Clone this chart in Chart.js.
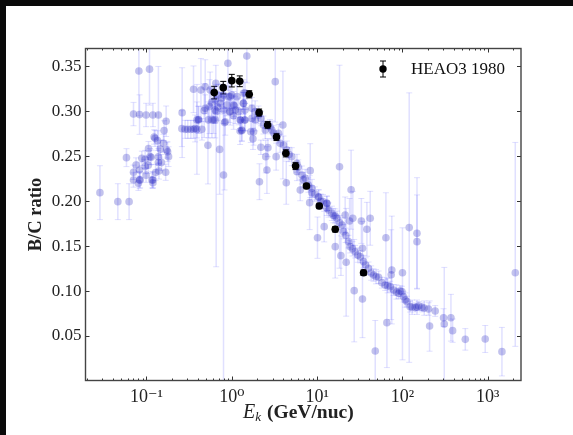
<!DOCTYPE html>
<html>
<head>
<meta charset="utf-8">
<title>B/C ratio</title>
<script src="https://cdn.jsdelivr.net/npm/chart.js@4"></script>
<style>
  html, body { margin: 0; padding: 0; background: #fff; overflow: hidden; }
  /* dark strip along the top and left of the screenshot */
  #frame { position: absolute; left: 0; top: 0; width: 567px; height: 429px;
           border-left: 6px solid #0a0a0a; border-top: 6px solid #0a0a0a; }
  canvas { display: block; }
</style>
</head>
<body>
<div id="frame"><canvas id="chart" width="567" height="429"></canvas></div>
<script>
// ---- data ----
const energies = [
  0.0285, 0.0462, 0.0626, 0.0583, 0.0705, 0.0815, 0.083, 0.1086, 0.099, 0.119, 0.138, 0.17, 0.161,
  0.123, 0.135, 0.158, 0.1057, 0.145, 0.177, 0.0883, 0.0966, 0.1135, 0.138, 0.1815, 0.138, 0.0755,
  0.0966, 0.0705, 0.083, 0.099, 0.14, 0.168, 0.0705, 0.083, 0.0805, 0.119, 0.119,
  0.262, 0.26, 0.284, 0.305, 0.331, 0.356, 0.39, 0.446, 0.39, 0.408, 0.356, 0.525, 0.435, 0.488,
  0.475, 0.533, 0.585, 0.64, 0.548, 0.558, 0.65, 0.72, 0.8, 0.822, 0.9, 1.5,
  0.64, 0.70, 0.80, 0.916, 1.0, 1.15, 1.37, 0.731, 0.875, 1.05, 1.37, 0.64, 0.8, 0.942, 1.1, 1.43,
  1.26, 1.43, 1.31,
  3.23, 3.97, 18.3, 25, 8.3, 2.11, 2.58, 4.35, 8.17, 2.5, 2.19, 2.65, 3.31, 1.77, 1.67, 1.31,
  1.26, 1.41, 1.88, 1.37, 1.07, 1.43, 1.72, 1.88,
  2.06, 2.35, 2.47, 2.95, 3.53, 3.69, 4.04, 4.42, 5.05, 5.8, 5.8, 6.63, 7.26, 6.34, 8.69, 10.4, 13, 13,
  10.1, 12.1, 16.3, 19, 21.9, 27.2, 34, 48, 65.7, 120, 148, 148, 64, 33, 41.9, 38.3, 34, 26.2, 24,
  21.3, 75, 73.8, 100, 2100,
  8.67, 10.4, 11.7, 13, 13.6, 14.9, 16.3, 17.1, 19.5, 20.4, 23.3, 24.4, 27.9, 32, 35, 40, 45.8, 52.5,
  57.4, 62.8, 71.9, 78.7, 90, 94, 98.6, 103, 113, 123, 141, 155, 169, 202, 242,
  303, 309, 370, 387, 208, 545, 933, 1465,
  0.372, 0.488, 0.407, 0.61, 0.957, 0.957, 0.838, 1.25, 1.72, 1.8, 0.58, 0.68, 0.76, 1.2, 1.05,
  0.126, 0.173, 0.11, 0.116, 0.0843, 0.15, 0.105, 0.128,
  2.2, 2.8, 3.1, 4.7, 6.0, 6.9, 7.9, 9.4, 11, 15.5, 18.4, 21.6, 26, 30, 37, 43, 49, 67, 85, 108, 130, 148, 180,
  0.656
];
const ratios = [
  0.2095, 0.1995, 0.1995, 0.2485, 0.297, 0.345, 0.2964, 0.347, 0.296, 0.296, 0.296, 0.289, 0.2786,
  0.2715, 0.2674, 0.2644, 0.2585, 0.258, 0.255, 0.2477, 0.2466, 0.2488, 0.2495, 0.2496, 0.243, 0.2403,
  0.2385, 0.2322, 0.2347, 0.229, 0.2336, 0.2322, 0.2236, 0.2236, 0.22, 0.2236, 0.2206,
  0.2986, 0.2808, 0.28, 0.28, 0.28, 0.28, 0.28, 0.28, 0.2905, 0.291, 0.3246, 0.2622, 0.3238, 0.3275,
  0.3008, 0.2905, 0.2905, 0.2905, 0.3053, 0.3238, 0.3313, 0.2577, 0.2292, 0.2875, 0.3535, 0.3617,
  0.3127, 0.3183, 0.3183, 0.3164, 0.3183, 0.3164, 0.3201, 0.309, 0.3071, 0.3071, 0.309, 0.3015, 0.3015, 0.2997, 0.3015, 0.3015,
  0.2904, 0.2904, 0.2793,
  0.3331, 0.2848, 0.2384, 0.2128, 0.234, 0.2217, 0.2347, 0.2206, 0.1984, 0.2496, 0.26, 0.2596, 0.2496, 0.2696, 0.2774, 0.2785,
  0.2904, 0.2904, 0.2904, 0.309, 0.306, 0.3208, 0.3034, 0.2997,
  0.296, 0.2848, 0.2793, 0.2793, 0.2756, 0.2644, 0.2626, 0.257, 0.2496, 0.2422, 0.2329, 0.2292, 0.2255, 0.2125, 0.2143, 0.205, 0.1976, 0.1921,
  0.1594, 0.1717, 0.1494, 0.1394, 0.132, 0.1004, 0.0911, 0.0332, 0.0648, 0.1706, 0.1642, 0.155, 0.1594, 0.178, 0.181, 0.1687, 0.1475, 0.181, 0.178,
  0.1847, 0.1234, 0.1182, 0.1204, 0.1204,
  0.2095, 0.2043, 0.1995, 0.1977, 0.1902, 0.1865, 0.1835, 0.181, 0.1735, 0.1661, 0.155, 0.1494, 0.1438, 0.1383, 0.1327, 0.1253, 0.1178, 0.1153,
  0.1093, 0.1067, 0.1049, 0.1011, 0.0974, 0.1, 0.0993, 0.0937, 0.0882, 0.0826, 0.0818, 0.0833, 0.0818, 0.08, 0.0778,
  0.0703, 0.0633, 0.0703, 0.0559, 0.061, 0.0462, 0.0466, 0.0325,
  0.281, 0.3034, 0.2904, 0.2904, 0.3164, 0.2997, 0.2885, 0.2781, 0.2922, 0.2774, 0.31, 0.305, 0.315, 0.3, 0.295,
  0.27, 0.257, 0.2496, 0.2237, 0.2237, 0.243, 0.24, 0.232,
  0.292, 0.283, 0.276, 0.252, 0.238, 0.224, 0.218, 0.208, 0.2, 0.184, 0.176, 0.162, 0.147, 0.14, 0.129, 0.12, 0.116, 0.106, 0.099, 0.09, 0.082, 0.082, 0.081,
  0.3
];
const errLow = [
  0.03, 0.02, 0.02, 0.01, 0.013, 0.05, 0.022, 0.04, 0.013, 0.013, 0.054, 0.017, 0.011,
  0.008, 0.011, 0.01, 0.008, 0.01, 0.011, 0.008, 0.01, 0.008, 0.009, 0.011, 0.008, 0.008,
  0.008, 0.008, 0.009, 0.008, 0.009, 0.009, 0.008, 0.009, 0.008, 0.009, 0.006,
  0.05, 0.02, 0.01, 0.01, 0.01, 0.01, 0.05, 0.012, 0.02, 0.015, 0.026, 0.043, 0.035, 0.03,
  0.03, 0.02, 0.02, 0.02, 0.03, 0.02, 0.02, 0.05, 0.23, 0.075, 0.03, 0.03,
  0.015, 0.012, 0.015, 0.012, 0.015, 0.012, 0.015, 0.012, 0.012, 0.015, 0.012, 0.015, 0.015, 0.012, 0.015, 0.012,
  0.012, 0.012, 0.012,
  0.045, 0.06, 0.113, 0.044, 0.03, 0.02, 0.026, 0.024, 0.03, 0.018, 0.008, 0.01, 0.015, 0.012, 0.012, 0.012,
  0.012, 0.012, 0.012, 0.012, 0.012, 0.012, 0.012, 0.012,
  0.01, 0.01, 0.01, 0.01, 0.01, 0.01, 0.01, 0.01, 0.01, 0.01, 0.01, 0.01, 0.01, 0.012, 0.01, 0.008, 0.008, 0.008,
  0.023, 0.017, 0.035, 0.022, 0.06, 0.057, 0.043, 0.034, 0.05, 0.15, 0.062, 0.052, 0.05, 0.025, 0.03, 0.03, 0.03, 0.03, 0.025,
  0.02, 0.06, 0.05, 0.097, 0.082,
  0.008, 0.008, 0.008, 0.008, 0.008, 0.008, 0.008, 0.008, 0.008, 0.008, 0.007, 0.007, 0.007, 0.007, 0.007, 0.007, 0.007, 0.007,
  0.006, 0.006, 0.006, 0.006, 0.006, 0.006, 0.006, 0.006, 0.006, 0.006, 0.005, 0.005, 0.005, 0.007, 0.006,
  0.01, 0.063, 0.026, 0.013, 0.028, 0.012, 0.015, 0.027,
  0.015, 0.015, 0.015, 0.015, 0.015, 0.015, 0.015, 0.015, 0.015, 0.015, 0.015, 0.015, 0.015, 0.015, 0.015,
  0.009, 0.009, 0.009, 0.009, 0.009, 0.009, 0.009, 0.009,
  0.008, 0.008, 0.008, 0.008, 0.008, 0.008, 0.008, 0.008, 0.008, 0.008, 0.008, 0.008, 0.008, 0.008, 0.008, 0.008, 0.008, 0.008, 0.008, 0.008, 0.008, 0.008, 0.008,
  0.173
];
const errHigh = [
  0.03, 0.02, 0.02, 0.01, 0.013, 0.06, 0.022, 0.06, 0.013, 0.013, 0.054, 0.017, 0.011,
  0.008, 0.011, 0.01, 0.008, 0.01, 0.011, 0.008, 0.01, 0.008, 0.009, 0.011, 0.008, 0.008,
  0.008, 0.008, 0.009, 0.008, 0.009, 0.009, 0.008, 0.009, 0.008, 0.009, 0.006,
  0.05, 0.02, 0.01, 0.01, 0.01, 0.01, 0.05, 0.012, 0.02, 0.015, 0.026, 0.043, 0.035, 0.03,
  0.03, 0.02, 0.02, 0.02, 0.03, 0.02, 0.02, 0.05, 0.1, 0.04, 0.03, 0.03,
  0.015, 0.012, 0.015, 0.012, 0.015, 0.012, 0.015, 0.012, 0.012, 0.015, 0.012, 0.015, 0.015, 0.012, 0.015, 0.012,
  0.012, 0.012, 0.012,
  0.045, 0.06, 0.113, 0.044, 0.03, 0.02, 0.026, 0.024, 0.03, 0.018, 0.008, 0.01, 0.015, 0.012, 0.012, 0.012,
  0.012, 0.012, 0.012, 0.012, 0.012, 0.012, 0.012, 0.012,
  0.01, 0.01, 0.01, 0.01, 0.01, 0.01, 0.01, 0.01, 0.01, 0.01, 0.01, 0.01, 0.01, 0.012, 0.01, 0.008, 0.008, 0.008,
  0.023, 0.017, 0.035, 0.022, 0.06, 0.057, 0.043, 0.034, 0.05, 0.15, 0.062, 0.052, 0.05, 0.025, 0.03, 0.03, 0.03, 0.03, 0.025,
  0.02, 0.06, 0.05, 0.05, 0.145,
  0.008, 0.008, 0.008, 0.008, 0.008, 0.008, 0.008, 0.008, 0.008, 0.008, 0.007, 0.007, 0.007, 0.007, 0.007, 0.007, 0.007, 0.007,
  0.006, 0.006, 0.006, 0.006, 0.006, 0.006, 0.006, 0.006, 0.006, 0.006, 0.005, 0.005, 0.005, 0.007, 0.006,
  0.01, 0.063, 0.026, 0.013, 0.028, 0.012, 0.015, 0.027,
  0.015, 0.015, 0.015, 0.015, 0.015, 0.015, 0.015, 0.015, 0.015, 0.015, 0.015, 0.015, 0.015, 0.015, 0.015,
  0.009, 0.009, 0.009, 0.009, 0.009, 0.009, 0.009, 0.009,
  0.008, 0.008, 0.008, 0.008, 0.008, 0.008, 0.008, 0.008, 0.008, 0.008, 0.008, 0.008, 0.008, 0.008, 0.008, 0.008, 0.008, 0.008, 0.008, 0.008, 0.008, 0.008, 0.008,
  0.03
];

const heaoE = [0.622, 0.794, 1.0, 1.24, 1.6, 2.09, 2.63, 3.34, 4.3, 5.59, 7.5, 10.6, 16.3, 35];
const heaoRatio = [0.3209, 0.3264, 0.3342, 0.3335, 0.319, 0.2986, 0.2848, 0.2715, 0.2533, 0.2392, 0.2169, 0.1947, 0.1687, 0.1204];
const heaoErr = [0.007, 0.007, 0.007, 0.006, 0.004, 0.004, 0.004, 0.004, 0.004, 0.004, 0.003, 0.003, 0.003, 0.003];

const xTicks = [0.1, 1, 10, 100, 1000];
const xTickLabels = ['10⁻¹', '10⁰', '10¹', '10²', '10³'];
const yTicks = [0.05, 0.10, 0.15, 0.20, 0.25, 0.30, 0.35];

const SERIF = "'Liberation Serif', 'DejaVu Serif', serif";
const INK = '#222';

function toPoints(xs, ys) {
  return xs.map(function (x, i) { return { x: x, y: ys[i] }; });
}

// error bars with caps, sits under the markers
const errorBars = {
  id: 'errorBars',
  beforeDatasetsDraw: function (chart) {
    const ctx = chart.ctx, xs = chart.scales.x, ys = chart.scales.y, a = chart.chartArea;
    function bar(x, y, lo, hi, color, w, cap) {
      const px = xs.getPixelForValue(x);
      const top = ys.getPixelForValue(y + hi), bot = ys.getPixelForValue(y - lo);
      ctx.strokeStyle = color;
      ctx.lineWidth = w;
      ctx.beginPath();
      ctx.moveTo(px, top); ctx.lineTo(px, bot);
      ctx.stroke();
      ctx.lineWidth = 1;
      ctx.beginPath();
      ctx.moveTo(px - cap, top); ctx.lineTo(px + cap, top);
      ctx.moveTo(px - cap, bot); ctx.lineTo(px + cap, bot);
      ctx.stroke();
    }
    ctx.save();
    ctx.beginPath();
    ctx.rect(a.left, a.top, a.right - a.left, a.bottom - a.top);
    ctx.clip();
    energies.forEach(function (e, i) {
      bar(e, ratios[i], errLow[i], errHigh[i], 'rgba(70,70,255,0.17)', 1.5, 3);
    });
    heaoE.forEach(function (e, i) {
      bar(e, heaoRatio[i], heaoErr[i], heaoErr[i], '#000', 1, 3);
    });
    ctx.restore();
  }
};

// inward ticks on all sides, frame, x title and the legend
const decorations = {
  id: 'decorations',
  afterDraw: function (chart) {
    const ctx = chart.ctx, xs = chart.scales.x, ys = chart.scales.y, a = chart.chartArea;
    ctx.save();
    ctx.strokeStyle = '#333';
    ctx.lineWidth = 1;
    ctx.beginPath();
    for (let k = -2; k <= 3; k++) {
      for (let m = 1; m <= 9; m++) {
        const v = m * Math.pow(10, k);
        if (v < xs.min || v > xs.max) continue;
        const px = Math.round(xs.getPixelForValue(v)) + 0.5;
        const len = m === 1 ? 4 : 2;
        ctx.moveTo(px, a.bottom); ctx.lineTo(px, a.bottom - len);
        ctx.moveTo(px, a.top); ctx.lineTo(px, a.top + len);
      }
    }
    yTicks.forEach(function (v) {
      const py = Math.round(ys.getPixelForValue(v)) + 0.5;
      ctx.moveTo(a.left, py); ctx.lineTo(a.left + 4, py);
      ctx.moveTo(a.right, py); ctx.lineTo(a.right - 4, py);
    });
    ctx.stroke();
    ctx.strokeStyle = '#444';
    ctx.lineWidth = 1.4;
    ctx.strokeRect(a.left, a.top, a.right - a.left, a.bottom - a.top);

    // legend
    const lx = 377, ly = 63;
    ctx.strokeStyle = '#000';
    ctx.fillStyle = '#000';
    ctx.lineWidth = 1;
    ctx.beginPath();
    ctx.moveTo(lx, ly - 8); ctx.lineTo(lx, ly + 8);
    ctx.moveTo(lx - 3, ly - 8); ctx.lineTo(lx + 3, ly - 8);
    ctx.moveTo(lx - 3, ly + 8); ctx.lineTo(lx + 3, ly + 8);
    ctx.stroke();
    ctx.beginPath();
    ctx.arc(lx, ly, 3.7, 0, Math.PI * 2);
    ctx.fill();
    ctx.fillStyle = '#111';
    ctx.font = "17px " + SERIF;
    ctx.textBaseline = 'middle';
    ctx.textAlign = 'left';
    ctx.fillText('HEAO3 1980', 405, ly + 0.5);

    // x axis title, mixed styles so drawn in pieces
    let x = 237;
    const y = 412;
    ctx.textBaseline = 'alphabetic';
    ctx.fillStyle = INK;
    ctx.font = "italic 20px " + SERIF;
    ctx.fillText('E', x, y);
    x += ctx.measureText('E').width;
    ctx.font = "italic 13px " + SERIF;
    ctx.fillText('k', x, y + 3);
    x += ctx.measureText('k').width + 6;
    ctx.font = "bold 19.5px " + SERIF;
    ctx.fillText('(GeV/nuc)', x, y);
    ctx.restore();
  }
};

new Chart(document.getElementById('chart'), {
  type: 'scatter',
  data: {
    datasets: [
      {
        label: 'HEAO3 1980',
        data: toPoints(heaoE, heaoRatio),
        backgroundColor: '#000',
        borderWidth: 0,
        pointRadius: 3.8,
        order: 0
      },
      {
        label: 'B/C',
        data: toPoints(energies, ratios),
        backgroundColor: 'rgba(30,30,190,0.27)',
        borderWidth: 0,
        pointRadius: 3.8,
        order: 1
      }
    ]
  },
  options: {
    responsive: false,
    animation: false,
    layout: { padding: { top: 42.5, right: 52, left: 0, bottom: 0 } },
    plugins: { legend: { display: false }, tooltip: { enabled: false } },
    scales: {
      x: {
        type: 'logarithmic',
        min: 0.0193,
        max: 2450,
        afterBuildTicks: function (scale) {
          scale.ticks = xTicks.map(function (v) { return { value: v, major: true }; });
        },
        afterFit: function (scale) { scale.height = 54.5; },
        grid: { display: false, drawTicks: false },
        border: { display: false },
        ticks: {
          autoSkip: false,
          maxRotation: 0,
          padding: 6,
          color: INK,
          font: { family: SERIF, size: 18 },
          callback: function (v) { return xTickLabels[xTicks.indexOf(v)]; }
        }
      },
      y: {
        min: 0.0004,
        max: 0.37,
        afterBuildTicks: function (scale) {
          scale.ticks = yTicks.map(function (v) { return { value: v }; });
        },
        afterFit: function (scale) { scale.width = 79.5; },
        grid: { display: false, drawTicks: false },
        border: { display: false },
        title: {
          display: true,
          text: 'B/C ratio',
          color: INK,
          padding: { top: 19, bottom: 6 },
          font: { family: SERIF, size: 18.5, weight: 'bold' }
        },
        ticks: {
          padding: 4,
          color: INK,
          font: { family: SERIF, size: 17 },
          callback: function (v) { return v.toFixed(2); }
        }
      }
    }
  },
  plugins: [errorBars, decorations]
});
</script>
</body>
</html>
